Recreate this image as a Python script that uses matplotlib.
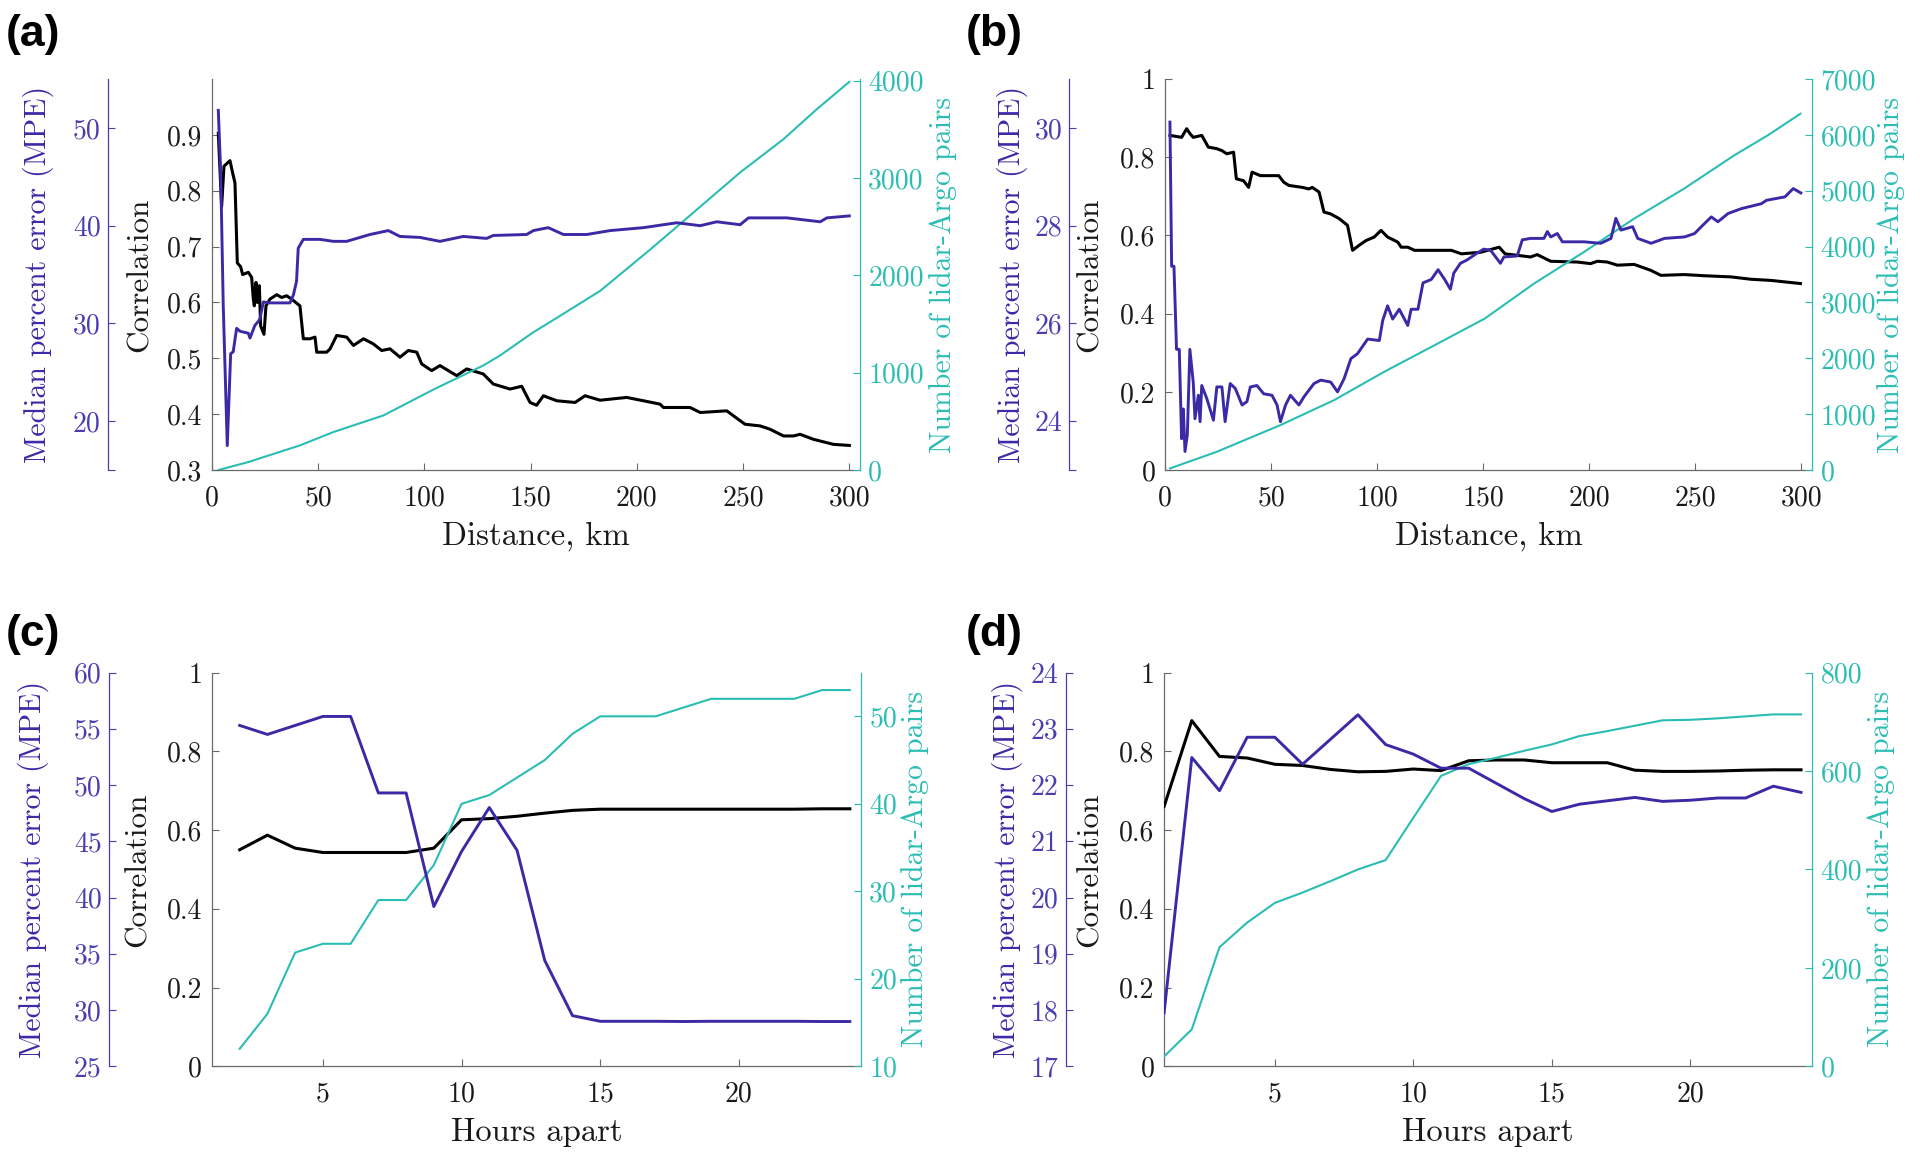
import matplotlib as mpl
mpl.use('Agg')
import matplotlib.pyplot as plt

mpl.rcParams['font.family'] = 'cmr10'
mpl.rcParams['mathtext.fontset'] = 'cm'
mpl.rcParams['axes.formatter.use_mathtext'] = True

PURPLE = '#3a2aa6'
PURPLE_AX = '#4a3db0'
CYAN = '#2bbdb4'
SPINE = '#6a6a6a'

# ---------------- panel (a): distance, first dataset ----------------
a_km_corr = [2.98, 4.55, 5.65, 8.48, 9.73, 10.83, 11.93, 13.5, 14.44, 17.11, 18.68, 19.46, 19.93,
             20.72, 21.35, 22.29, 22.91, 24.48, 25.42, 27.31, 30.45, 32.8, 35.15, 37.5, 41.4, 43.0,
             46.1, 48.5, 49.3, 54.0, 55.6, 58.7, 63.4, 66.6, 71.3, 75.9, 79.9, 83.8, 88.5, 92.4,
             96.4, 98.7, 103.4, 107.3, 115.2, 119.9, 127.7, 132.4, 140.3, 145.8, 149.7, 152.8,
             156.0, 162.3, 170.9, 175.6, 182.7, 195.2, 203.1, 210.9, 212.5, 225.0, 229.8, 242.3,
             245.5, 250.9, 258.0, 262.7, 269.0, 273.7, 276.8, 283.1, 292.5, 300.0]
a_corr = [0.903, 0.772, 0.844, 0.854, 0.832, 0.814, 0.671, 0.664, 0.650, 0.654, 0.645, 0.606, 0.594,
          0.636, 0.600, 0.630, 0.558, 0.543, 0.594, 0.606, 0.614, 0.609, 0.612, 0.606, 0.594, 0.535,
          0.535, 0.538, 0.511, 0.511, 0.517, 0.541, 0.538, 0.523, 0.535, 0.526, 0.514, 0.517, 0.502,
          0.514, 0.511, 0.490, 0.478, 0.487, 0.469, 0.481, 0.472, 0.454, 0.445, 0.450, 0.421, 0.416,
          0.433, 0.424, 0.421, 0.433, 0.425, 0.430, 0.424, 0.418, 0.412, 0.412, 0.403, 0.406,
          0.397, 0.382, 0.379, 0.373, 0.361, 0.361, 0.364, 0.355, 0.346, 0.344]
a_km_mpe = [2.98, 4.1, 5.3, 7.2, 8.8, 10.0, 11.6, 13.2, 17.1, 17.9, 20.2, 21.8, 22.6, 24.2, 27.3,
            36.7, 38.3, 39.8, 40.6, 43.0, 50.8, 57.1, 63.4, 74.4, 83.0, 88.5, 97.9, 107.3, 118.3,
            129.3, 132.4, 148.1, 151.3, 158.3, 165.4, 176.4, 187.4, 203.1, 218.8, 229.8, 237.6,
            248.6, 252.5, 270.6, 286.3, 289.4, 300.0]
a_mpe = [51.8, 45.5, 31.9, 17.5, 26.9, 27.1, 29.5, 29.2, 29.0, 28.5, 29.8, 30.2, 30.5, 32.2, 32.1,
         32.1, 32.9, 34.3, 37.7, 38.6, 38.6, 38.4, 38.4, 39.1, 39.5, 38.9, 38.8, 38.4, 38.9,
         38.7, 39.0, 39.1, 39.5, 39.8, 39.1, 39.1, 39.5, 39.8, 40.3, 40.0, 40.4,
         40.1, 40.8, 40.8, 40.4, 40.8, 41.0]
a_km_cnt = [3, 17.1, 41.4, 57.1, 80.7, 104.9, 127.7, 135.6, 151.3, 159.1, 182.7, 206.2, 220.3,
            248.6, 269.0, 284.7, 300.0]
a_cnt = [0, 82, 253, 390, 561, 834, 1074, 1177, 1416, 1520, 1840, 2264, 2527,
         3057, 3399, 3707, 3988]

# ---------------- panel (b): distance, second dataset ----------------
b_km_corr = [2.3, 7.8, 10.2, 11.8, 13.3, 17.3, 20.4, 24.4, 26.8, 29.1, 32.3, 33.6, 37.0, 39.4, 41.0,
             44.9, 53.6, 56.0, 58.4, 64.7, 67.8, 69.4, 72.6, 74.9, 78.1, 82.1, 86.0, 88.4, 91.5,
             94.7, 98.6, 101.8, 104.9, 109.7, 111.3, 114.4, 117.6, 134.9, 139.7, 148.7, 157.5,
             160.3, 172.3, 175.4, 181.8, 194.3, 200.6, 203.8, 208.5, 213.2, 221.1, 228.9, 233.7,
             244.7, 254.2, 266.8, 276.2, 285.7, 299.5]
b_corr = [0.856, 0.851, 0.873, 0.860, 0.851, 0.856, 0.826, 0.822, 0.817, 0.809, 0.813, 0.745, 0.740,
          0.723, 0.762, 0.753, 0.753, 0.736, 0.728, 0.723, 0.719, 0.723, 0.711, 0.660, 0.655, 0.643,
          0.626, 0.562, 0.575, 0.587, 0.596, 0.613, 0.596, 0.583, 0.570, 0.570, 0.562, 0.562, 0.553,
          0.557, 0.570, 0.553, 0.545, 0.551, 0.534, 0.532, 0.528, 0.534, 0.532, 0.524, 0.526, 0.511,
          0.498, 0.500, 0.497, 0.494, 0.488, 0.485, 0.477]
b_km_mpe = [2.3, 3.1, 4.2, 5.4, 6.7, 7.8, 8.6, 9.4, 10.5, 11.7, 13.3, 14.1, 15.7, 16.5, 17.3, 19.7,
            22.8, 24.4, 26.8, 28.3, 30.7, 33.1, 36.3, 38.6, 40.2, 43.3, 46.5, 50.4, 52.8, 54.4,
            56.8, 59.1, 63.1, 65.5, 70.2, 73.4, 78.1, 81.3, 84.4, 87.6, 90.7, 95.5, 101.0, 102.6,
            104.9, 107.3, 110.4, 114.4, 116.0, 119.2, 121.6, 125.5, 128.7, 131.8, 134.5, 136.1,
            139.2, 142.4, 147.1, 150.2, 153.4, 158.1, 159.7, 166.0, 168.4, 172.3, 178.6, 180.2,
            181.8, 184.9, 187.3, 197.5, 205.4, 210.2, 212.5, 214.9, 220.4, 222.8, 229.1, 235.4,
            244.9, 249.6, 252.8, 257.5, 260.6, 265.4, 271.7, 281.1, 283.5, 292.2, 296.1, 299.7]
b_mpe = [30.12, 27.17, 27.17, 25.47, 25.47, 23.64, 24.25, 23.38, 23.72, 25.47, 24.79, 24.05, 24.53,
         23.99, 24.73, 24.46, 24.02, 24.70, 24.70, 23.99, 24.77, 24.67, 24.33, 24.40, 24.70, 24.73,
         24.56, 24.53, 24.33, 23.99, 24.33, 24.53, 24.33, 24.50, 24.77, 24.84, 24.80, 24.60, 24.87,
         25.28, 25.38, 25.68, 25.65, 26.06, 26.36, 26.09, 26.29, 25.96, 26.29, 26.29, 26.83, 26.90,
         27.10, 26.90, 26.70, 27.03, 27.23, 27.30, 27.44, 27.52, 27.50, 27.23, 27.36, 27.38, 27.71,
         27.74, 27.74, 27.88, 27.77, 27.84, 27.67, 27.67, 27.64, 27.74, 28.15, 27.91, 27.98, 27.74,
         27.64, 27.74, 27.77, 27.84, 27.98, 28.18, 28.08, 28.25, 28.35, 28.45, 28.52, 28.59, 28.76,
         28.67]
b_km_cnt = [2.3, 24.4, 54.4, 79.7, 103.3, 127.1, 134.5, 150.7, 173.9, 197.5, 221.1, 244.7, 268.3,
            284.1, 299.5]
b_cnt = [29, 327, 805, 1252, 1759, 2236, 2385, 2712, 3338, 3905, 4501, 5040, 5635, 5993, 6380]

# ---------------- panel (c): hours apart, first dataset ----------------
c_hours = list(range(2, 25))
c_corr = [0.550, 0.587, 0.554, 0.543, 0.543, 0.543, 0.543, 0.554, 0.626, 0.629, 0.635, 0.643,
          0.650, 0.653, 0.653, 0.653, 0.653, 0.653, 0.653, 0.653, 0.653, 0.654, 0.654]
c_mpe = [55.3, 54.5, 55.3, 56.1, 56.1, 49.3, 49.3, 39.2, 44.1, 48.0, 44.2, 34.4, 29.5, 29.0,
         29.0, 29.0, 28.98, 29.0, 29.0, 29.0, 29.0, 28.98, 28.98]
c_cnt = [12, 16, 23, 24, 24, 29, 29, 33, 40, 41, 43, 45, 48, 50, 50, 50, 51, 52, 52, 52, 52, 53, 53]

# ---------------- panel (d): hours apart, second dataset ----------------
d_hours = list(range(1, 25))
d_corr = [0.660, 0.878, 0.787, 0.783, 0.767, 0.764, 0.754, 0.748, 0.749, 0.755, 0.751, 0.776,
          0.778, 0.778, 0.771, 0.771, 0.771, 0.752, 0.749, 0.749, 0.750, 0.752, 0.753, 0.753]
d_mpe = [17.95, 22.49, 21.90, 22.85, 22.85, 22.37, 22.81, 23.25, 22.72, 22.55, 22.30, 22.30,
         22.03, 21.76, 21.53, 21.66, 21.72, 21.78, 21.71, 21.73, 21.77, 21.77, 21.98, 21.87]
d_cnt = [20, 75, 242, 292, 332, 353, 376, 400, 419, 505, 590, 614, 627, 641, 654, 671, 681, 692,
         703, 704, 707, 711, 715, 715]

# tick labels
corr_ticks_a = [0.3, 0.4, 0.5, 0.6, 0.7, 0.8, 0.9]
corr_ticks = [0, 0.2, 0.4, 0.6, 0.8, 1]
dist_ticks = [0, 50, 100, 150, 200, 250, 300]
hour_ticks = [5, 10, 15, 20]


def fmt(v):
    return ('%g' % v)


def panel(pos, letter, letter_xy, xs, corr, mpe, cnt, xlim, xticks, xlabel,
          corr_lim, corr_ticks, mpe_lim, mpe_ticks, mpe_labels, cnt_lim, cnt_ticks,
          mpe_off, lab_x):
    ax = fig.add_axes(pos)
    ax_r = ax.twinx()
    ax_m = ax.twinx()

    ax.plot(xs[0], corr, color='k', lw=2.2, zorder=3)
    ax_r.plot(xs[2], cnt, color=CYAN, lw=1.5)
    ax_m.plot(xs[1], mpe, color=PURPLE, lw=2.1)

    ax.set_xlim(*xlim)
    ax.set_xticks(xticks)
    ax.set_xticklabels([fmt(t) for t in xticks])
    ax.set_ylim(*corr_lim)
    ax.set_yticks(corr_ticks)
    ax.set_yticklabels([fmt(t) for t in corr_ticks])
    ax_r.set_ylim(*cnt_lim)
    ax_r.set_yticks(cnt_ticks)
    ax_r.set_yticklabels([fmt(t) for t in cnt_ticks])
    ax_m.set_ylim(*mpe_lim)
    ax_m.set_yticks(mpe_ticks)
    ax_m.set_yticklabels(mpe_labels)

    for s in ['top', 'right']:
        ax.spines[s].set_visible(False)
    for s in ['left', 'bottom']:
        ax.spines[s].set_color(SPINE)
        ax.spines[s].set_linewidth(0.9)
    for s in ['left', 'top', 'bottom']:
        ax_r.spines[s].set_visible(False)
    for s in ['right', 'top', 'bottom']:
        ax_m.spines[s].set_visible(False)
    ax_r.spines['right'].set_color(CYAN)
    ax_r.spines['right'].set_linewidth(0.9)
    ax_m.spines['left'].set_visible(True)
    ax_m.spines['left'].set_position(('axes', mpe_off))
    ax_m.spines['left'].set_color(PURPLE_AX)
    ax_m.spines['left'].set_linewidth(0.9)
    ax_m.yaxis.set_ticks_position('left')

    ax.tick_params(axis='both', direction='in', length=5, width=0.8, color=SPINE,
                   labelsize=20, labelcolor='#1a1a1a')
    ax.tick_params(axis='x', pad=11)
    ax.tick_params(axis='y', pad=7)
    ax_r.tick_params(axis='y', direction='in', length=5, width=0.8, color=CYAN,
                     labelsize=20, labelcolor=CYAN, pad=6)
    ax_m.tick_params(axis='y', direction='in', length=5, width=0.8, color=PURPLE_AX,
                     labelsize=20, labelcolor=PURPLE_AX, pad=5)

    ax.set_xlabel(xlabel, fontsize=23.5, color='#1a1a1a')
    ax.xaxis.set_label_coords(0.5, -0.132)
    ax.set_ylabel('Correlation', fontsize=22.5, color='#1a1a1a')
    ax_m.set_ylabel('Median percent error (MPE)', fontsize=21.5, color=PURPLE)
    ax_m.yaxis.set_label_position('left')
    ax_r.set_ylabel('Number of lidar-Argo pairs', fontsize=21.5, color=CYAN)
    for a, x in zip([ax, ax_m, ax_r], lab_x):
        a.yaxis.label.set_va('center')
        a.yaxis.set_label_coords(x, 0.5)

    fig.text(letter_xy[0], letter_xy[1], letter, fontsize=32, fontweight='bold',
             family='Liberation Sans', va='top', ha='left')


fig = plt.figure(figsize=(19.2, 11.58), dpi=100)

panel([0.1104, 0.5941, 0.3375, 0.3376], '(a)', (0.003, 0.988),
      (a_km_corr, a_km_mpe, a_km_cnt), a_corr, a_mpe, a_cnt,
      (0, 305), dist_ticks, 'Distance, km',
      (0.3, 1.0), corr_ticks_a, (15, 55), [15, 20, 30, 40, 50], ['', '20', '30', '40', '50'],
      (0, 4016), [0, 1000, 2000, 3000, 4000], -0.161, (-0.111, -0.268, 1.128))

panel([0.6068, 0.5941, 0.3370, 0.3376], '(b)', (0.503, 0.988),
      (b_km_corr, b_km_mpe, b_km_cnt), b_corr, b_mpe, b_cnt,
      (0, 305), dist_ticks, 'Distance, km',
      (0, 1), corr_ticks, (23, 31), [23, 24, 26, 28, 30], ['', '24', '26', '28', '30'],
      (0, 7000), [0, 1000, 2000, 3000, 4000, 5000, 6000, 7000], -0.148, (-0.116, -0.236, 1.122))

panel([0.1104, 0.0792, 0.3380, 0.3400], '(c)', (0.003, 0.470),
      (c_hours, c_hours, c_hours), c_corr, c_mpe, c_cnt,
      (1, 24.4), hour_ticks, 'Hours apart',
      (0, 1), corr_ticks, (25, 60), [25, 30, 35, 40, 45, 50, 55, 60],
      ['25', '30', '35', '40', '45', '50', '55', '60'],
      (10, 55), [10, 20, 30, 40, 50], -0.159, (-0.114, -0.275, 1.084))

panel([0.6063, 0.0792, 0.3375, 0.3400], '(d)', (0.503, 0.470),
      (d_hours, d_hours, d_hours), d_corr, d_mpe, d_cnt,
      (1, 24.4), hour_ticks, 'Hours apart',
      (0, 1), corr_ticks, (17, 24), [17, 18, 19, 20, 21, 22, 23, 24],
      ['17', '18', '19', '20', '21', '22', '23', '24'],
      (0, 800), [0, 200, 400, 600, 800], -0.152, (-0.114, -0.2415, 1.107))

fig.savefig('out.png', dpi=100)
